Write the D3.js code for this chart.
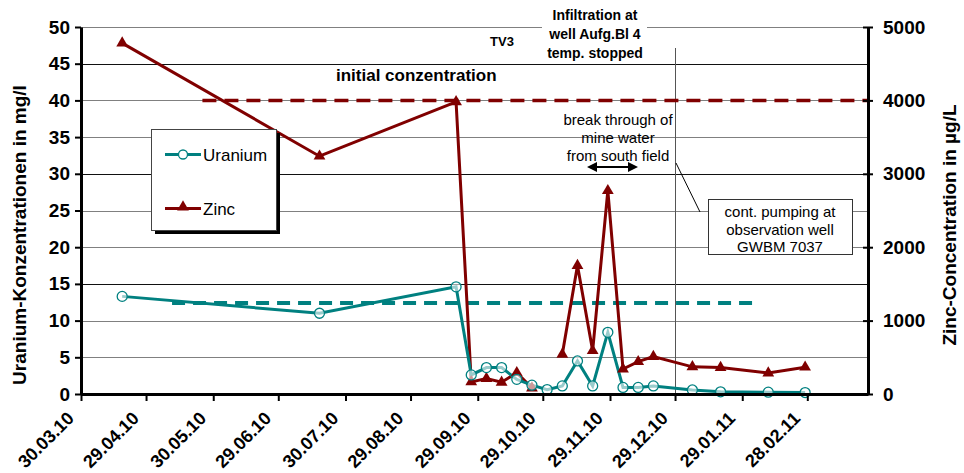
<!DOCTYPE html>
<html lang="en">
<meta charset="utf-8">
<head>
<script src="https://d3js.org/d3.v7.min.js"></script>
<style>
  body { margin: 0; background: #fff; }
  svg text { font-family: "Liberation Sans", Arial, sans-serif; }
</style>
</head>
<body>
<svg id="chart" width="964" height="473"></svg>
<script>
// sampling dates of the measurements
var sampleDates = ["2010-04-18", "2010-07-18", "2010-09-19", "2010-09-26", "2010-10-03",
  "2010-10-10", "2010-10-17", "2010-10-24", "2010-10-31", "2010-11-07", "2010-11-14",
  "2010-11-21", "2010-11-28", "2010-12-05", "2010-12-12", "2010-12-19", "2011-01-06",
  "2011-01-19", "2011-02-10", "2011-02-27"];
// uranium in mg/l (left axis)
var uranium = [13.3, 11.0, 14.6, 2.6, 3.6, 3.6, 2.0, 1.2, 0.6, 1.1, 4.5,
  1.1, 8.4, 0.9, 0.9, 1.1, 0.55, 0.3, 0.25, 0.2];
// zinc in µg/L (right axis), null = no sample
var zinc = [4780, 3240, 3980, 165, 210, 160, 290, 80, null, 540, 1750,
  590, 2770, 340, 440, 510, 370, 360, 285, 365];

// initial concentration lines
var uraniumInitialDates = ["2010-05-11", "2011-02-05"];
var uraniumInitial = [12.4, 12.4];
var zincInitialDates = ["2010-05-25", "2011-03-28"];
var zincInitial = [4000, 4000];

var xTickLabels = ["30.03.10", "29.04.10", "30.05.10", "29.06.10", "30.07.10", "29.08.10",
  "29.09.10", "29.10.10", "29.11.10", "29.12.10", "29.01.11", "28.02.11"];
var leftTicks = [0, 5, 10, 15, 20, 25, 30, 35, 40, 45, 50];
var rightTicks = [0, 1000, 2000, 3000, 4000, 5000];

var svg = d3.select("#chart");
var plotL = 81, plotR = 868, plotT = 27, plotB = 394;
var teal = "#008080", red = "#800000";

var parseIso = d3.utcParse("%Y-%m-%d");
var parseLabel = d3.utcParse("%d.%m.%y");
var fmtLabel = d3.utcFormat("%d.%m.%y");

var x = d3.scaleUtc()
  .domain([parseIso("2010-03-30"), parseIso("2011-03-28")])
  .range([plotL, plotR]);
var yU = d3.scaleLinear().domain([0, 50]).range([plotB, plotT]);
var yZ = d3.scaleLinear().domain([0, 5000]).range([plotB, plotT]);

var rows = sampleDates.map(function(d, i) {
  return { date: parseIso(d), u: uranium[i], z: zinc[i] };
});

// gridlines
svg.append("g")
  .selectAll("line")
  .data(leftTicks.slice(1))
  .enter().append("line")
    .attr("x1", plotL).attr("x2", plotR)
    .attr("y1", function(d) { return Math.round(yU(d)) + 0.5; })
    .attr("y2", function(d) { return Math.round(yU(d)) + 0.5; })
    .attr("stroke", function(d) { return d % 15 == 0 ? "#111" : "#808080"; })
    .attr("stroke-width", 1);

// annotation: vertical line at pumping start
var pumpX = Math.round(x(parseLabel("29.12.10"))) + 0.5;
svg.append("line")
  .attr("x1", pumpX).attr("x2", pumpX)
  .attr("y1", 48).attr("y2", plotB)
  .attr("stroke", "#555").attr("stroke-width", 1);

// initial concentration dashed lines
svg.append("line")
  .attr("x1", x(parseIso(zincInitialDates[0]))).attr("x2", x(parseIso(zincInitialDates[1])))
  .attr("y1", yZ(zincInitial[0])).attr("y2", yZ(zincInitial[1]))
  .attr("stroke", red).attr("stroke-width", 3.5)
  .attr("stroke-dasharray", "14,8");
svg.append("line")
  .attr("x1", x(parseIso(uraniumInitialDates[0]))).attr("x2", x(parseIso(uraniumInitialDates[1])))
  .attr("y1", yU(uraniumInitial[0])).attr("y2", yU(uraniumInitial[1]))
  .attr("stroke", teal).attr("stroke-width", 4)
  .attr("stroke-dasharray", "13,8");

// series lines
var lineU = d3.line()
  .x(function(d) { return x(d.date); })
  .y(function(d) { return yU(d.u); });
var lineZ = d3.line()
  .defined(function(d) { return d.z != null; })
  .x(function(d) { return x(d.date); })
  .y(function(d) { return yZ(d.z); });

svg.append("path").datum(rows)
  .attr("d", lineZ)
  .attr("fill", "none").attr("stroke", red).attr("stroke-width", 3);
svg.append("path").datum(rows)
  .attr("d", lineU)
  .attr("fill", "none").attr("stroke", teal).attr("stroke-width", 3);

// markers
var tri = d3.symbol().type(d3.symbolTriangle).size(60);
svg.append("g")
  .selectAll("path")
  .data(rows.filter(function(d) { return d.z != null; }))
  .enter().append("path")
    .attr("d", tri)
    .attr("transform", function(d) { return "translate(" + x(d.date) + "," + yZ(d.z) + ")"; })
    .attr("fill", red);
svg.append("g")
  .selectAll("circle")
  .data(rows)
  .enter().append("circle")
    .attr("cx", function(d) { return x(d.date); })
    .attr("cy", function(d) { return yU(d.u); })
    .attr("r", 5)
    .attr("fill", "#fff").attr("fill-opacity", 0.6)
    .attr("stroke", teal).attr("stroke-width", 1.3);

// axes
var gL = svg.append("g")
  .attr("transform", "translate(" + plotL + ",0)")
  .call(d3.axisLeft(yU).tickValues(leftTicks).tickSizeInner(6).tickSizeOuter(0).tickPadding(5));
var gR = svg.append("g")
  .attr("transform", "translate(" + plotR + ",0)")
  .call(d3.axisRight(yZ).tickValues(rightTicks).tickFormat(d3.format("d"))
    .tickSizeInner(5).tickSizeOuter(0).tickPadding(10));
gR.selectAll(".tick line").attr("x1", -5);
var gX = svg.append("g")
  .attr("transform", "translate(0," + plotB + ")")
  .call(d3.axisBottom(x).tickValues(xTickLabels.map(parseLabel)).tickFormat(fmtLabel)
    .tickSizeInner(7).tickSizeOuter(0));

[gL, gR, gX].forEach(function(g) {
  g.select(".domain").attr("stroke", "#000").attr("stroke-width", 3);
  g.selectAll(".tick line").attr("stroke", "#000").attr("stroke-width", 2);
  g.selectAll(".tick text")
    .attr("fill", "#000")
    .style("font-size", "19px").style("font-weight", "bold")
    .style("font-family", "'Liberation Sans', Arial, sans-serif");
});
gX.selectAll(".tick text")
  .attr("text-anchor", "end")
  .attr("transform", "translate(-11,21) rotate(-45)")
  .attr("dy", "0.35em").attr("y", 0).attr("x", 0)
  .style("font-size", "18px");

// axis titles
svg.append("text")
  .attr("transform", "translate(26,235) rotate(-90)")
  .attr("text-anchor", "middle")
  .style("font-size", "19px").style("font-weight", "bold")
  .text("Uranium-Konzentrationen in mg/l");
svg.append("text")
  .attr("transform", "translate(956,225) rotate(-90)")
  .attr("text-anchor", "middle")
  .style("font-size", "19px").style("font-weight", "bold")
  .text("Zinc-Concentration in µg/L");

// legend
svg.append("rect").attr("x", 155).attr("y", 133).attr("width", 125).attr("height", 101).attr("fill", "#000");
svg.append("rect").attr("x", 151.5).attr("y", 129.5).attr("width", 125).attr("height", 101)
  .attr("fill", "#fff").attr("stroke", "#444").attr("stroke-width", 1);
svg.append("line").attr("x1", 165).attr("x2", 201).attr("y1", 154.5).attr("y2", 154.5)
  .attr("stroke", teal).attr("stroke-width", 3);
svg.append("circle").attr("cx", 183).attr("cy", 154.5).attr("r", 4.5)
  .attr("fill", "#fff").attr("stroke", teal).attr("stroke-width", 1.3);
svg.append("text").attr("x", 203).attr("y", 161).style("font-size", "17px").text("Uranium");
svg.append("line").attr("x1", 165).attr("x2", 201).attr("y1", 208.5).attr("y2", 208.5)
  .attr("stroke", red).attr("stroke-width", 3);
svg.append("path").attr("d", tri).attr("transform", "translate(183,207)").attr("fill", red);
svg.append("text").attr("x", 203).attr("y", 215).style("font-size", "17px").text("Zinc");

// text annotations
svg.append("text").attr("x", 336).attr("y", 81)
  .style("font-size", "17px").style("font-weight", "bold")
  .text("initial conzentration");
svg.append("text").attr("x", 502).attr("y", 46).attr("text-anchor", "middle")
  .style("font-size", "13px").style("font-weight", "bold")
  .text("TV3");

svg.append("rect").attr("x", 542).attr("y", 2).attr("width", 105).attr("height", 58).attr("fill", "#fff");
var infil = svg.append("text").attr("text-anchor", "middle")
  .style("font-size", "14px").style("font-weight", "bold");
["Infiltration at", "well Aufg.Bl 4", "temp. stopped"].forEach(function(t, i) {
  infil.append("tspan").attr("x", 595).attr("y", 20 + i * 19).text(t);
});

var brk = svg.append("text").attr("text-anchor", "middle").style("font-size", "15px");
["break through of", "mine water", "from south field"].forEach(function(t, i) {
  brk.append("tspan").attr("x", 618).attr("y", 125 + i * 18).text(t);
});

// double arrow
svg.append("line").attr("x1", 592).attr("x2", 633).attr("y1", 167).attr("y2", 167)
  .attr("stroke", "#000").attr("stroke-width", 2);
svg.append("path").attr("d", "M587,167 L597,162 L597,172 Z").attr("fill", "#000");
svg.append("path").attr("d", "M638,167 L628,162 L628,172 Z").attr("fill", "#000");

// pumping note
svg.append("line").attr("x1", 676).attr("y1", 163).attr("x2", 700).attr("y2", 212)
  .attr("stroke", "#000").attr("stroke-width", 1);
svg.append("rect").attr("x", 708.5).attr("y", 199.5).attr("width", 144).attr("height", 55)
  .attr("fill", "#fff").attr("stroke", "#333").attr("stroke-width", 1);
var pump = svg.append("text").attr("text-anchor", "middle").style("font-size", "15px");
["cont. pumping at", "observation well", "GWBM 7037"].forEach(function(t, i) {
  pump.append("tspan").attr("x", 780).attr("y", 217 + i * 17.5).text(t);
});
</script>
</body>
</html>
